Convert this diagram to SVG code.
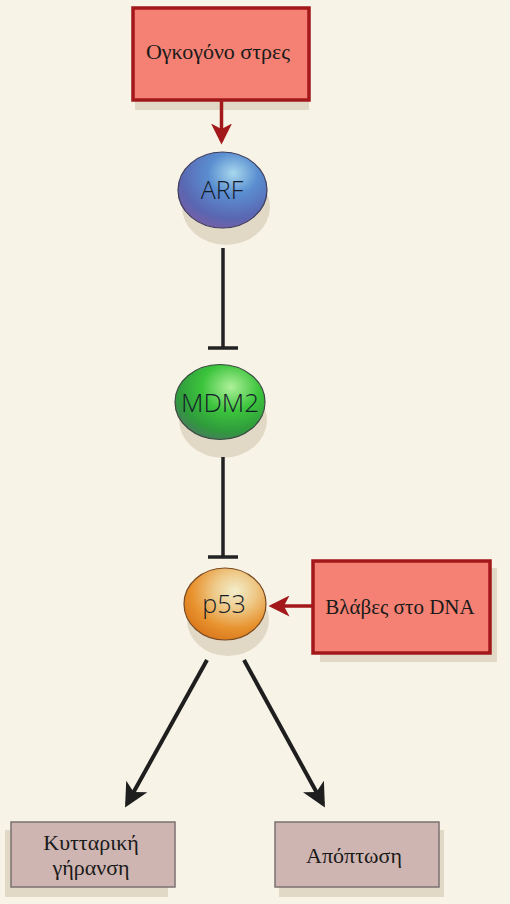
<svg xmlns="http://www.w3.org/2000/svg" width="510" height="904" viewBox="0 0 510 904">
<defs>
<style>
.bg{fill:#f7f3e7}
.shadow{fill:#e2d8c6}
.redbox{fill:#f48173;stroke:#a3181a;stroke-width:3.5}
.outbox{fill:#cfb5b1;stroke:#7a7270;stroke-width:1.5}
.serif{font-family:"Liberation Serif","DejaVu Serif",serif;fill:#1a1a1a;text-anchor:middle}
.sans{font-family:"Open Sans","Liberation Sans",sans-serif;fill:#141c2a;text-anchor:middle;font-weight:300}
.inh{stroke:#222;stroke-width:3.5;fill:none}
.act{stroke:#1e1e1e;stroke-width:4;fill:none}
.red{stroke:#a3181a;stroke-width:3.5;fill:none}
</style>
<radialGradient id="gARF" cx="0.62" cy="0.28" r="0.8">
<stop offset="0" stop-color="#a8d8ee"/>
<stop offset="0.35" stop-color="#5a8ed0"/>
<stop offset="0.75" stop-color="#5a66b2"/>
<stop offset="1" stop-color="#7c5ea4"/>
</radialGradient>
<radialGradient id="gMDM" cx="0.62" cy="0.3" r="0.8">
<stop offset="0" stop-color="#aef09a"/>
<stop offset="0.4" stop-color="#3cc43c"/>
<stop offset="0.75" stop-color="#2f9a3c"/>
<stop offset="1" stop-color="#52726a"/>
</radialGradient>
<radialGradient id="gP53" cx="0.62" cy="0.32" r="0.75">
<stop offset="0" stop-color="#f3eecc"/>
<stop offset="0.35" stop-color="#eec886"/>
<stop offset="0.7" stop-color="#e8922e"/>
<stop offset="1" stop-color="#d8741a"/>
</radialGradient>
<marker id="ahRed" markerWidth="6" markerHeight="6" refX="5" refY="3" orient="auto" markerUnits="strokeWidth">
<path d="M0,0 L6,3 L0,6 L1.6,3 Z" fill="#a3181a"/>
</marker>
<marker id="ahBlk" markerWidth="6" markerHeight="6" refX="5" refY="3" orient="auto" markerUnits="strokeWidth">
<path d="M0,0 L6,3 L0,6 L1.6,3 Z" fill="#1e1e1e"/>
</marker>
</defs>
<rect class="bg" x="0" y="0" width="510" height="904"/>

<g id="oncogenic-stress">
<rect class="shadow" x="135" y="12" width="174" height="98"/>
<rect class="redbox" x="133" y="8" width="176" height="92"/>
<text class="serif" x="218" y="59" font-size="22">Ογκογόνο στρες</text>
</g>

<g id="ARF">
<ellipse class="shadow" cx="226" cy="207" rx="44" ry="38"/>
<ellipse cx="222.5" cy="190" rx="44.5" ry="38" fill="url(#gARF)" stroke="#3c3c5a" stroke-width="1.2"/>
<text class="sans" x="222" y="199" font-size="25">ARF</text>
</g>

<g id="MDM2">
<ellipse class="shadow" cx="223" cy="420" rx="44" ry="38"/>
<ellipse cx="220" cy="402" rx="45" ry="37.5" fill="url(#gMDM)" stroke="#3a4a40" stroke-width="1.2"/>
<text class="sans" x="220" y="412" font-size="26">MDM2</text>
</g>

<g id="p53">
<ellipse class="shadow" cx="228" cy="620" rx="41" ry="36"/>
<ellipse cx="225" cy="604" rx="41" ry="36" fill="url(#gP53)" stroke="#7a4a20" stroke-width="1.2"/>
<text class="sans" x="224" y="613" font-size="25">p53</text>
</g>

<g id="dna-damage">
<rect class="shadow" x="320" y="568" width="177" height="94"/>
<rect class="redbox" x="313" y="561" width="177" height="92"/>
<text class="serif" x="400" y="614" font-size="21">Βλάβες στο DNA</text>
</g>

<g id="senescence">
<rect class="shadow" x="5" y="830" width="163" height="67"/>
<rect class="outbox" x="11" y="822" width="164" height="65"/>
<text class="serif" x="91" y="850" font-size="22">Κυτταρική</text>
<text class="serif" x="91" y="875" font-size="22">γήρανση</text>
</g>

<g id="apoptosis">
<rect class="shadow" x="279" y="830" width="165" height="67"/>
<rect class="outbox" x="275" y="822" width="164" height="65"/>
<text class="serif" x="354" y="863" font-size="22">Απόπτωση</text>
</g>

<g id="connectors">
<line class="red" x1="221.5" y1="100" x2="221.5" y2="141" marker-end="url(#ahRed)"/>
<line class="inh" x1="223" y1="248" x2="223" y2="348"/>
<line class="inh" x1="208" y1="348" x2="238" y2="348"/>
<line class="inh" x1="223" y1="457" x2="223" y2="557"/>
<line class="inh" x1="208" y1="557" x2="238" y2="557"/>
<line class="red" x1="313" y1="606" x2="272" y2="606" marker-end="url(#ahRed)"/>
<line class="act" x1="207" y1="660" x2="127" y2="804" marker-end="url(#ahBlk)"/>
<line class="act" x1="244" y1="660" x2="323" y2="804" marker-end="url(#ahBlk)"/>
</g>
</svg>
